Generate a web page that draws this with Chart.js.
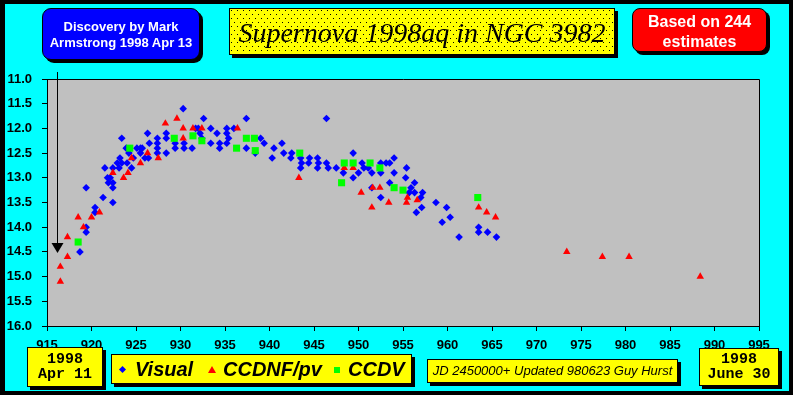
<!DOCTYPE html>
<html>
<head>
<meta charset="utf-8">
<script src="https://cdn.jsdelivr.net/npm/chart.js@4.4.0/dist/chart.umd.min.js"></script>
<style>
  body { margin: 0; background: #fff; }
  #wrap { position: relative; width: 796px; height: 398px; overflow: hidden; font-family: "Liberation Sans", Arial, sans-serif; }
  #frame { position: absolute; left: 0; top: 0; width: 793px; height: 395px; background: #000; }
  #inner { position: absolute; left: 5px; top: 4px; width: 784px; height: 387px; background: #00ffff; }
  canvas { position: absolute; left: 0; top: 0; }
  .box { position: absolute; box-sizing: border-box; border: 1px solid #000; box-shadow: 3px 3px 0 #000; text-align: center; }
  .blue { left: 42px; top: 8px; width: 158px; height: 52px; background: #0000ff; border-radius: 9px;
          color: #fff; font-weight: bold; font-size: 13px; line-height: 16px; padding-top: 10px; }
  .title { left: 229px; top: 8px; width: 386px; height: 47px; background-color: #ffff00;
           background-image: url("data:image/svg+xml,%3Csvg xmlns='http://www.w3.org/2000/svg' width='6' height='8'%3E%3Crect x='1' y='1' width='1' height='1' fill='black'/%3E%3Crect x='4' y='5' width='1' height='1' fill='black'/%3E%3C/svg%3E");
           font-family: "Liberation Serif", "Times New Roman", serif; font-style: italic; font-size: 28px; line-height: 47px; }
  .red { left: 632px; top: 8px; width: 135px; height: 44px; background: #ff0000; border-radius: 8px;
         color: #fff; font-weight: bold; font-size: 16px; line-height: 20px; padding-top: 3px; }
  .date { background: #ffff00; font-family: "Liberation Mono", "Courier New", monospace; font-weight: bold; font-size: 15px; line-height: 15px; }
  .d1 { left: 27px; top: 347px; width: 76px; height: 40px; padding-top: 4px; }
  .d2 { left: 699px; top: 348px; width: 80px; height: 38px; padding-top: 3px; }
  .legend { left: 111px; top: 354px; width: 301px; height: 30px; background: #ffff00; }
  .legend span { position: absolute; top: 3px; font-weight: bold; font-style: italic; font-size: 20px; line-height: 22px; }
  .mk { position: absolute; }
  .jd { left: 427px; top: 359px; width: 251px; height: 24px; background: #ffff00; font-style: italic; font-size: 13px; line-height: 22px; }
</style>
</head>
<body>
<div id="wrap">
  <div id="frame"></div>
  <div id="inner"></div>
  <canvas id="chart" width="796" height="398"></canvas>
  <div class="box blue">Discovery by Mark<br>Armstrong 1998 Apr 13</div>
  <div class="box title">Supernova 1998aq in NGC 3982</div>
  <div class="box red">Based on 244<br>estimates</div>
  <div class="box date d1">1998<br>Apr 11</div>
  <div class="box legend">
    <div class="mk" style="left:8px;top:12px;width:5px;height:5px;background:#0000ff;transform:rotate(45deg);"></div>
    <span style="left:23px;">Visual</span>
    <div class="mk" style="left:96px;top:11px;width:0;height:0;border-left:4px solid transparent;border-right:4px solid transparent;border-bottom:7px solid #ff0000;"></div>
    <span style="left:111px;">CCDNF/pv</span>
    <div class="mk" style="left:222px;top:12px;width:6px;height:6px;background:#00ff00;"></div>
    <span style="left:236px;">CCDV</span>
  </div>
  <div class="box jd">JD 2450000+ Updated 980623 Guy Hurst</div>
  <div class="box date d2">1998<br>June 30</div>
</div>
<script>
// JD - 2450000 and magnitude
const visualJD = [
  930.3, 932.6, 926.3, 928.4, 927.4, 928.4, 923.4, 932.0, 931.7, 932.2, 932.4, 933.4, 934.1, 935.2, 935.2, 935.4,
  935.2, 934.4, 934.4, 933.4, 931.3, 930.4, 930.4, 929.4, 929.4, 927.4, 927.4, 927.4, 928.4, 926.5, 925.5, 925.1,
  925.7, 925.5, 926.0, 926.4, 924.7, 924.2, 923.9, 923.2, 922.9, 923.4, 924.0, 923.1, 922.4, 924.5, 921.5, 921.8,
  922.1, 922.4, 921.9, 922.4, 919.4, 921.3, 920.4, 920.4, 922.4, 919.4, 919.4, 918.7, 936.0,
  937.4, 946.4, 937.4, 938.4, 939.0, 939.4, 940.5, 941.4, 940.3, 941.6, 942.5, 942.4, 943.5, 943.5, 943.6, 944.5,
  944.4, 945.4, 945.5, 945.4, 946.4, 946.6, 947.5, 949.4, 949.4, 948.3, 950.4, 950.6, 951.1, 951.5, 952.5, 953.1,
  953.5, 952.5, 954.0, 954.0, 953.5, 951.5, 952.5, 950.0,
  955.4, 955.3, 956.3, 955.9, 955.7, 956.3, 957.2, 957.0, 957.1, 956.5, 958.7, 959.9, 960.3, 959.4, 961.3, 963.5,
  963.5, 964.5, 965.5
];
const visualMag = [
  11.6, 11.8, 12.1, 12.1, 12.2, 12.2, 12.2, 12.0, 12.0, 12.1, 12.2, 12.0, 12.1, 12.0, 12.1, 12.2,
  12.3, 12.3, 12.4, 12.3, 12.4, 12.4, 12.3, 12.3, 12.4, 12.3, 12.4, 12.5, 12.5, 12.3, 12.4, 12.4,
  12.4, 12.5, 12.6, 12.6, 12.6, 12.5, 12.4, 12.6, 12.7, 12.7, 12.7, 12.8, 12.8, 12.8, 12.8, 13.0,
  13.0, 13.1, 13.1, 13.2, 13.2, 13.4, 13.6, 13.7, 13.5, 14.0, 14.1, 14.5, 12.0,
  11.8, 11.8, 12.4, 12.5, 12.2, 12.3, 12.4, 12.3, 12.6, 12.5, 12.5, 12.6, 12.6, 12.8, 12.7, 12.6,
  12.7, 12.6, 12.7, 12.8, 12.7, 12.8, 12.8, 12.5, 13.0, 12.9, 12.7, 12.8, 12.8, 12.9, 12.7, 12.7,
  12.7, 12.9, 12.6, 12.9, 13.1, 13.2, 13.4, 12.9,
  12.8, 13.0, 13.1, 13.2, 13.3, 13.3, 13.3, 13.4, 13.6, 13.7, 13.5, 13.6, 13.8, 13.9, 14.2, 14.0,
  14.1, 14.1, 14.2
];
const ccdnfJD = [
  916.5, 916.5, 917.3, 917.3, 918.5, 919.1, 920.0, 920.9, 922.4, 923.6, 924.1, 924.5, 925.5, 926.3,
  927.5, 928.3, 929.6, 930.3, 930.3, 931.4, 932.4, 936.4, 943.3, 948.4, 949.4, 950.3, 951.5, 951.6,
  952.4, 953.4, 955.4, 955.5, 956.6, 963.5, 964.4, 965.4, 973.4, 977.4, 980.4, 988.4
];
const ccdnfMag = [
  15.1, 14.8, 14.6, 14.2, 13.8, 14.0, 13.8, 13.7, 12.9, 13.0, 12.9, 12.6, 12.7, 12.5,
  12.6, 11.9, 11.8, 12.0, 12.2, 12.0, 12.0, 12.0, 13.0, 12.8, 12.8, 13.3, 13.6, 13.2,
  13.2, 13.5, 13.5, 13.4, 13.45, 13.6, 13.7, 13.8, 14.5, 14.6, 14.6, 15.0
];
const ccdvJD = [918.5, 924.3, 929.3, 931.4, 932.4, 936.3, 937.4, 938.3, 938.4, 943.4, 948.1, 948.4, 949.4, 951.3, 952.4, 954.0, 955.0, 963.4];
const ccdvMag = [14.3, 12.4, 12.2, 12.15, 12.25, 12.4, 12.2, 12.2, 12.45, 12.5, 13.1, 12.7, 12.7, 12.7, 12.8, 13.2, 13.25, 13.4];

const xTicks = [915, 920, 925, 930, 935, 940, 945, 950, 955, 960, 965, 970, 975, 980, 985, 990, 995];
const yTicks = [11.0, 11.5, 12.0, 12.5, 13.0, 13.5, 14.0, 14.5, 15.0, 15.5, 16.0];

// discovery arrow
const arrowJD = 916.1;
const arrowMag = 14.5;

const toPoints = (xs, ys) => xs.map((x, i) => ({ x: x, y: ys[i] }));

const plotFrame = {
  id: 'plotFrame',
  beforeDraw(chart) {
    const a = chart.chartArea, ctx = chart.ctx;
    ctx.save();
    ctx.fillStyle = '#c0c0c0';
    ctx.fillRect(a.left, a.top, a.right - a.left, a.bottom - a.top);
    ctx.restore();
  },
  afterDraw(chart) {
    const a = chart.chartArea, ctx = chart.ctx;
    ctx.save();
    ctx.strokeStyle = '#000';
    ctx.lineWidth = 1;
    ctx.beginPath();
    ctx.moveTo(a.left, a.top + 0.5);
    ctx.lineTo(a.right + 0.5, a.top + 0.5);
    ctx.lineTo(a.right + 0.5, a.bottom);
    ctx.stroke();

    // arrow marking discovery
    const x = Math.round(chart.scales.x.getPixelForValue(arrowJD)) + 0.5;
    const tip = chart.scales.y.getPixelForValue(arrowMag) + 1;
    ctx.beginPath();
    ctx.moveTo(x, 72);
    ctx.lineTo(x, tip - 8);
    ctx.stroke();
    ctx.fillStyle = '#000';
    ctx.beginPath();
    ctx.moveTo(x - 6, tip - 10);
    ctx.lineTo(x + 6, tip - 10);
    ctx.lineTo(x, tip);
    ctx.closePath();
    ctx.fill();
    ctx.restore();
  }
};

const tickFont = { family: '"Liberation Sans", Arial, sans-serif', size: 13, weight: 'bold' };

new Chart(document.getElementById('chart'), {
  type: 'scatter',
  data: {
    datasets: [
      { label: 'Visual', data: toPoints(visualJD, visualMag), pointStyle: 'rectRot', pointRadius: 3.8,
        backgroundColor: '#0000ff', borderColor: '#0000ff', pointBorderWidth: 0, order: 2 },
      { label: 'CCDNF/pv', data: toPoints(ccdnfJD, ccdnfMag), pointStyle: 'triangle', pointRadius: 4.3,
        backgroundColor: '#ff0000', borderColor: '#ff0000', pointBorderWidth: 0, order: 1 },
      { label: 'CCDV', data: toPoints(ccdvJD, ccdvMag), pointStyle: 'rect', pointRadius: 5,
        backgroundColor: '#00ff00', borderColor: '#00ff00', pointBorderWidth: 0, order: 0 }
    ]
  },
  options: {
    responsive: false,
    animation: false,
    events: [],
    layout: { padding: { left: 0, top: 79, right: 37, bottom: 0 } },
    plugins: { legend: { display: false }, tooltip: { enabled: false } },
    scales: {
      x: {
        type: 'linear', min: 915, max: 995,
        afterBuildTicks: s => { s.ticks = xTicks.map(v => ({ value: v })); },
        afterFit: s => { s.height = 72; },
        ticks: { color: '#000', font: tickFont, padding: 7, maxRotation: 0, autoSkip: false },
        grid: { drawOnChartArea: false, tickLength: 5, color: '#000' },
        border: { color: '#000', width: 1 }
      },
      y: {
        type: 'linear', min: 11, max: 16, reverse: true,
        afterBuildTicks: s => { s.ticks = yTicks.map(v => ({ value: v })); },
        afterFit: s => { s.width = 47; },
        ticks: { color: '#000', font: tickFont, padding: 10, callback: v => v.toFixed(1) },
        grid: { drawOnChartArea: false, tickLength: 5, color: '#000' },
        border: { color: '#000', width: 1 }
      }
    }
  },
  plugins: [plotFrame]
});
</script>
</body>
</html>
